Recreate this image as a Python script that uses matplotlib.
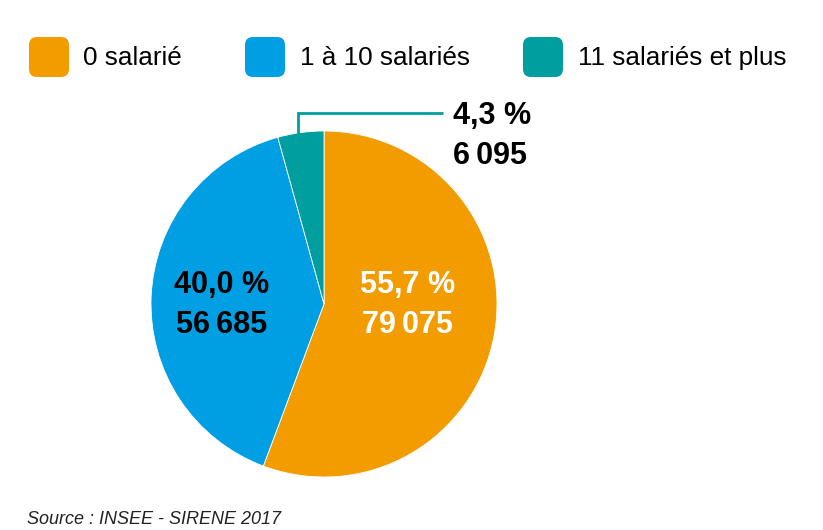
import numpy as np
import matplotlib.pyplot as plt
from matplotlib.patches import FancyBboxPatch

# data
categories = ['0 salarié', '1 à 10 salariés', '11 salariés et plus']
shares = [55.7, 40.0, 4.3]
counts = ['79\u2009075', '56\u2009685', '6\u2009095']
colors = ['#F39C00', '#009FE3', '#009E9E']

plt.rcParams['font.family'] = ['Liberation Sans', 'DejaVu Sans']

W, H = 823, 530
fig = plt.figure(figsize=(W / 100, H / 100), dpi=100)
ax = fig.add_axes([0, 0, 1, 1])
ax.set_xlim(0, W)
ax.set_ylim(0, H)
ax.set_aspect('equal')
ax.axis('off')

cx, cy, r = 324, H - 304, 173
wedges, _ = ax.pie(shares, colors=colors, startangle=90, counterclock=False,
                   center=(cx, cy), radius=r,
                   wedgeprops=dict(linewidth=0.6, edgecolor='white'))
ax.set_xlim(0, W)
ax.set_ylim(0, H)

def lab(i):
    return f"{shares[i]:.1f} %".replace('.', ',') + "\n" + counts[i]

# inside labels
ax.text(408, H - 305, lab(0), color='white', fontsize=22, fontweight='bold',
        ha='center', va='center', linespacing=1.45)
ax.text(222, H - 305, lab(1), color='black', fontsize=22, fontweight='bold',
        ha='center', va='center', linespacing=1.45)

# leader line for small slice
w = wedges[2]
mid = np.deg2rad((w.theta1 + w.theta2) / 2)
x0 = cx + r * 0.96 * np.cos(mid) - 4
y0 = cy + r * 0.96 * np.sin(mid) - 4
ax.plot([x0, x0, 443], [y0, H - 113, H - 113], color=colors[2], lw=2,
        solid_capstyle='butt', solid_joinstyle='miter')
ax.text(453, H - 136, lab(2), color='black', fontsize=22, fontweight='bold',
        ha='left', va='center', linespacing=1.45)

# legend
box_x = [29, 245, 523]
text_x = [83, 300, 578]
for i, name in enumerate(categories):
    box = FancyBboxPatch((box_x[i], H - 77), 40, 40,
                         boxstyle='round,pad=0,rounding_size=8',
                         fc=colors[i], ec='none')
    ax.add_patch(box)
    ax.text(text_x[i], H - 58, name, fontsize=18.8, color='black',
            ha='left', va='center')

ax.text(27, H - 520, 'Source : INSEE - SIRENE 2017', fontsize=13,
        style='italic', color='#222222', ha='left', va='center')

fig.savefig('out.png', dpi=100)
